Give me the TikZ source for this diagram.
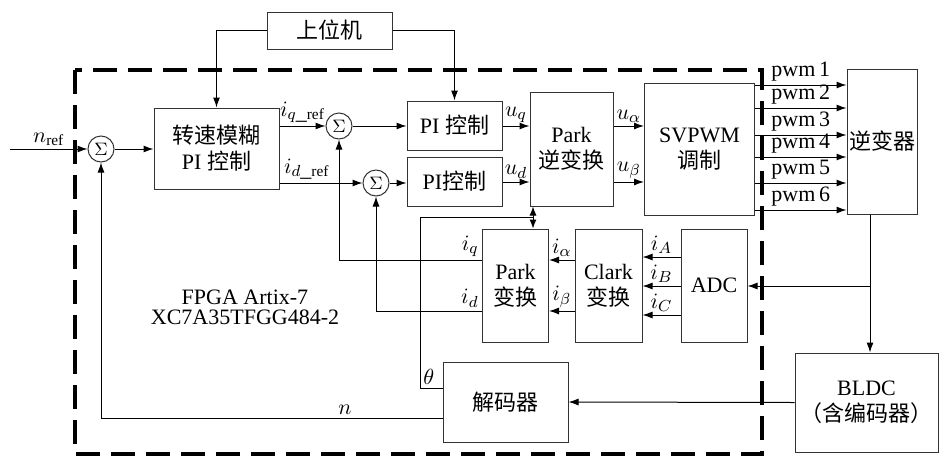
\documentclass[tikz,border=0pt]{standalone}
\usepackage{fontspec}
\setmainfont{Liberation Serif}
\newfontfamily\cjk{Noto Sans CJK SC}
\usetikzlibrary{arrows.meta, positioning, calc}

\begin{document}
\begin{tikzpicture}[x=0.5pt, y=-0.5pt, font=\fontsize{11}{13}\selectfont,
        blk/.style={rectangle, draw=black!80, line width=0.5pt, align=center, inner sep=1pt},
        sum/.style={circle, draw=black!80, line width=0.5pt, minimum size=13pt, inner sep=0pt, font=\small},
        arrow/.style={-{Latex[length=5pt, width=3.5pt]}, line width=0.5pt},
        both/.style={{Latex[length=4.5pt, width=3.5pt]}-{Latex[length=4.5pt, width=3.5pt]}, line width=0.5pt},
        wire/.style={line width=0.5pt},
        lbl/.style={inner sep=1.5pt}
    ]
        \useasboundingbox (0,0) rectangle (940,455);

        % FPGA frame
        \draw[line width=2pt, dash pattern=on 12pt off 5.5pt] (75,70) rectangle (762,454);
        \node[align=center, font=\fontsize{11}{10}\selectfont] (fpga) at (245,307) {FPGA Artix-7\\XC7A35TFGG484-2};

        % blocks
        \node[blk, minimum width=62.5pt, minimum height=18.5pt] (upc) at (329.5,30.5) {\cjk 上位机};
        \node[blk, minimum width=62.5pt, minimum height=40.5pt] (spd) at (216.5,148.5) {{\cjk 转速模糊}\\PI {\cjk 控制}};
        \node[blk, minimum width=47.5pt, minimum height=24.5pt] (pi1) at (454.5,125.5) {PI {\cjk 控制}};
        \node[blk, minimum width=47.5pt, minimum height=24.5pt] (pi2) at (454.5,181.5) {PI{\cjk 控制}};
        \node[blk, minimum width=41.5pt, minimum height=57pt] (ipk) at (571.5,149) {Park\\{\cjk 逆变换}};
        \node[blk, minimum width=55pt, minimum height=66pt] (svm) at (699.5,149) {SVPWM\\{\cjk 调制}};
        \node[blk, minimum width=35pt, minimum height=72.5pt] (inv) at (882,141.5) {\cjk 逆变器};
        \node[blk, minimum width=33pt, minimum height=56.5pt] (pk) at (515.5,285.5) {Park\\{\cjk 变换}};
        \node[blk, minimum width=33.5pt, minimum height=56.5pt] (clk) at (608.5,285.5) {Clark\\{\cjk 变换}};
        \node[blk, minimum width=33pt, minimum height=56.5pt] (adc) at (714,285.5) {ADC};
        \node[blk, minimum width=62.5pt, minimum height=40pt] (dec) at (505.5,402) {\cjk 解码器};
        \node[blk, minimum width=71.5pt, minimum height=49.5pt] (bldc) at (866.5,402.5) {BLDC\\{\cjk （含编码器）}};

        % summing points
        \node[sum] (s1) at (101,149) {$\Sigma$};
        \node[sum] (s2) at (339,126) {$\Sigma$};
        \node[sum] (s3) at (376,183) {$\Sigma$};

        % speed loop
        \coordinate (nin) at (10,149);
        \draw[arrow] (nin) -- (s1.west) node[lbl, midway, above] {$n_{\mathrm{ref}}$};
        \draw[arrow] (s1.east) -- (spd.west |- s1);
        \draw[arrow] (upc.west) -| (spd.north);
        \draw[arrow] (upc.east) -| (pi1.north);

        % current references
        \draw[arrow] (spd.east |- s2) -- (s2.west) node[lbl, midway, above] {$i_{q\_\mathrm{ref}}$};
        \draw[arrow] (spd.east |- s3) -- (s3.west) node[lbl, pos=0.33, above] {$i_{d\_\mathrm{ref}}$};
        \draw[arrow] (s2.east) -- (pi1.west |- s2);
        \draw[arrow] (s3.east) -- (pi2.west |- s3);
        \draw[arrow] (pi1.east |- 0,126) -- (ipk.west |- 0,126) node[lbl, midway, above] {$u_q$};
        \draw[arrow] (pi2.east |- 0,182) -- (ipk.west |- 0,182) node[lbl, midway, above] {$u_d$};
        \draw[arrow] (ipk.east |- 0,126) -- (svm.west |- 0,126) node[lbl, midway, above] {$u_\alpha$};
        \draw[arrow] (ipk.east |- 0,182) -- (svm.west |- 0,182) node[lbl, midway, above] {$u_\beta$};

        % pwm signals
        \foreach \i/\y in {1/85, 2/108, 3/135, 4/157, 5/183, 6/210}
            \draw[arrow] (svm.east |- 0,\y) -- (inv.west |- 0,\y) node[lbl, midway, above] {pwm\,\i};

        % motor and sampling
        \coordinate (tap) at (870,286);
        \draw[arrow] (inv.south -| tap) -- (bldc.north -| tap);
        \draw[arrow] (tap) -- (adc.east |- tap);
        \draw[arrow] (bldc.west) -- (dec.east);

        % current measurement
        \draw[arrow] (adc.west |- 0,257) -- (clk.east |- 0,257) node[lbl, midway, above] {$i_A$};
        \draw[arrow] (adc.west |- 0,286) -- (clk.east |- 0,286) node[lbl, midway, above] {$i_B$};
        \draw[arrow] (adc.west |- 0,315) -- (clk.east |- 0,315) node[lbl, midway, above] {$i_C$};
        \draw[arrow] (clk.west |- 0,260) -- (pk.east |- 0,260) node[lbl, midway, above] {$i_\alpha$};
        \draw[arrow] (clk.west |- 0,311) -- (pk.east |- 0,311) node[lbl, midway, above] {$i_\beta$};
        \draw[arrow] (pk.west |- 0,260) node[lbl, above left] {$i_q$} -| (s2.south);
        \draw[arrow] (pk.west |- 0,311) node[lbl, above left] {$i_d$} -| (s3.south);

        % angle and speed feedback
        \coordinate (th) at (533,217);
        \draw[wire] (dec.west |- 0,388) -| (420,217) -- (th);
        \node[lbl, above right] (thl) at (420,388) {$\theta$};
        \draw[both] (ipk.south -| th) -- (pk.north -| th);
        \draw[arrow] (dec.west |- 0,418) -| (s1.south);
        \node[lbl, above] (nl) at (345,418) {$n$};
    \end{tikzpicture}
\end{document}
